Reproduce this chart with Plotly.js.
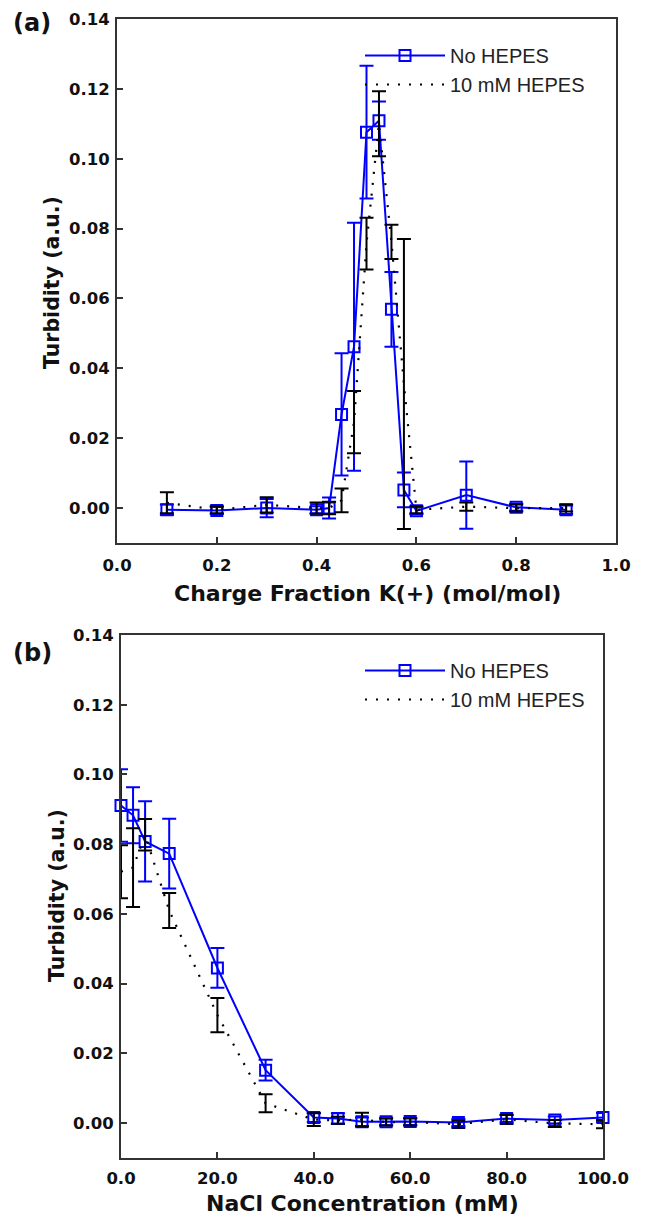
<!DOCTYPE html>
<html>
<head>
<meta charset="utf-8">
<script src="https://cdn.plot.ly/plotly-3.0.1.min.js"></script>
<style>html,body{margin:0;padding:0;background:#fff;}#chart{width:646px;height:1219px;}</style>
</head>
<body>
<div id="chart"></div>
<script>
// ---- Panel (a): turbidity vs charge fraction ----
const chargeFraction = [0.1,0.2,0.3,0.4,0.425,0.45,0.475,0.5,0.525,0.55,0.575,0.6,0.7,0.8,0.9];
const noHepesA      = [-0.0005,-0.0007,0.0,-0.0005,0.0,0.0268,0.0462,0.1076,0.1109,0.0569,0.0052,-0.0008,0.0037,0.0002,-0.0005];
const noHepesAErr   = [0.0015,0.001,0.0026,0.001,0.003,0.0175,0.0355,0.019,0.0055,0.0107,0.005,0.001,0.0096,0.001,0.0012];
const hepesA        = [0.0015,-0.0005,0.0009,0.0,0.0,0.0022,0.0246,0.0757,0.110,0.0762,0.0355,-0.0005,0.0004,0.0,0.0];
const hepesAErr     = [0.003,0.001,0.0022,0.0016,0.0018,0.0034,0.0089,0.0074,0.0093,0.0049,0.0415,0.001,0.0012,0.001,0.001];

// ---- Panel (b): turbidity vs NaCl concentration ----
const naclConc      = [0,2.5,5,10,20,30,40,45,50,55,60,70,80,90,100];
const noHepesB      = [0.0911,0.0883,0.0808,0.0773,0.0445,0.0152,0.0016,0.0013,0.0004,0.0004,0.0005,0.0002,0.0013,0.0009,0.0016];
const noHepesBErr   = [0.0104,0.008,0.0115,0.01,0.0057,0.003,0.0013,0.0015,0.0012,0.001,0.001,0.001,0.001,0.001,0.0013];
const hepesB        = [0.0721,0.0733,0.0827,0.061,0.031,0.0057,0.001,0.0008,0.001,0.0003,0.0003,-0.0003,0.0011,-0.0001,-0.0003];
const hepesBErr     = [0.0076,0.0113,0.0045,0.005,0.0049,0.0026,0.0018,0.001,0.002,0.001,0.001,0.001,0.0013,0.001,0.0012];

const seriesNames = ['No HEPES', '10 mM HEPES'];
const yTickVals = [0,0.02,0.04,0.06,0.08,0.10,0.12,0.14];
const xTickValsA = [0,0.2,0.4,0.6,0.8,1.0];
const xTickValsB = [0,20,40,60,80,100];

const BLUE = '#0000ff';
const BLACK = '#000000';
const BOLDFONT = 'DejaVu Sans, Liberation Sans, Arial, sans-serif';
const LEGFONT = 'Liberation Sans, Arial, Helvetica, sans-serif';

function blueTrace(x, y, err, xa, ya, leg, grp) {
  return {
    x: x, y: y, xaxis: xa, yaxis: ya, type: 'scatter', mode: 'lines+markers',
    name: seriesNames[0], legend: leg, legendgroup: grp + '1', cliponaxis: false,
    line: {color: BLUE, width: 2},
    marker: {symbol: 'square-open', size: 11, color: BLUE, line: {color: BLUE, width: 2}},
    error_y: {type: 'data', array: err, visible: true, color: BLUE, thickness: 2, width: 7}
  };
}
function blackTrace(x, y, err, xa, ya, leg, grp) {
  return {
    x: x, y: y, xaxis: xa, yaxis: ya, type: 'scatter', mode: 'lines',
    name: seriesNames[1], legend: leg, legendgroup: grp + '2', cliponaxis: false,
    line: {color: BLACK, width: 2.2, dash: '2px,9px'},
    error_y: {type: 'data', array: err, visible: true, color: BLACK, thickness: 2, width: 7}
  };
}

const data = [
  blueTrace(chargeFraction, noHepesA, noHepesAErr, 'x', 'y', 'legend', 'a'),
  blackTrace(chargeFraction, hepesA, hepesAErr, 'x', 'y', 'legend', 'a'),
  blueTrace(naclConc, noHepesB, noHepesBErr, 'x2', 'y2', 'legend2', 'b'),
  blackTrace(naclConc, hepesB, hepesBErr, 'x2', 'y2', 'legend2', 'b')
];

const tickFont = {family: BOLDFONT, size: 16.5, weight: 'bold', color: '#111'};
function axisBase(extra) {
  return Object.assign({
    showline: true, mirror: true, linecolor: '#333', linewidth: 2,
    ticks: 'inside', ticklen: 6, tickwidth: 2, tickcolor: '#333',
    showgrid: false, zeroline: false, tickfont: tickFont, fixedrange: true
  }, extra);
}

const W = 646, H = 1219;
const legendCommon = {
  font: {family: LEGFONT, size: 20, color: '#222'},
  bgcolor: 'rgba(0,0,0,0)', borderwidth: 0, xanchor: 'left', yanchor: 'top',
  tracegroupgap: 5, itemwidth: 80, traceorder: 'normal'
};

const titleFont = {family: BOLDFONT, size: 22, weight: 'bold', color: '#111'};
const yTitleFont = {family: BOLDFONT, size: 20.5, weight: 'bold', color: '#111'};
const panelFont = {family: BOLDFONT, size: 24, weight: 'bold', color: '#111'};

const layout = {
  width: W, height: H,
  margin: {l: 0, r: 0, t: 0, b: 0},
  paper_bgcolor: '#fff', plot_bgcolor: '#fff',
  showlegend: true,
  xaxis: axisBase({domain: [117/W, 616/W], anchor: 'y', range: [0, 1], tickvals: xTickValsA, tickformat: '.1f', ticklabelstandoff: 6}),
  yaxis: axisBase({domain: [1-543/H, 1-19/H], anchor: 'x', range: [-0.01, 0.14], tickvals: yTickVals, tickformat: '.2f', ticklabelstandoff: 2}),
  xaxis2: axisBase({domain: [121/W, 603/W], anchor: 'y2', range: [0, 100], tickvals: xTickValsB, tickformat: '.1f', ticklabelstandoff: 4}),
  yaxis2: axisBase({domain: [1-1158/H, 1-635/H], anchor: 'x2', range: [-0.01, 0.14], tickvals: yTickVals, tickformat: '.2f', ticklabelstandoff: 2}),
  legend: Object.assign({}, legendCommon, {x: 360/W, y: 1-36/H}),
  legend2: Object.assign({}, legendCommon, {x: 360/W, y: 1-651/H}),
  annotations: [
    {text: '(a)', xref: 'paper', yref: 'paper', x: 11/W, y: 1-23/H, xanchor: 'left', yanchor: 'middle', showarrow: false, font: panelFont},
    {text: '(b)', xref: 'paper', yref: 'paper', x: 11/W, y: 1-653/H, xanchor: 'left', yanchor: 'middle', showarrow: false, font: panelFont},
    {text: 'Charge Fraction K(+) (mol/mol)', xref: 'paper', yref: 'paper', x: 367/W, y: 1-593/H, xanchor: 'center', yanchor: 'middle', showarrow: false, font: titleFont},
    {text: 'NaCl Concentration (mM)', xref: 'paper', yref: 'paper', x: 362/W, y: 1-1203/H, xanchor: 'center', yanchor: 'middle', showarrow: false, font: titleFont},
    {text: 'Turbidity (a.u.)', xref: 'paper', yref: 'paper', x: 52/W, y: 1-283/H, xanchor: 'center', yanchor: 'middle', textangle: -90, showarrow: false, font: yTitleFont},
    {text: 'Turbidity (a.u.)', xref: 'paper', yref: 'paper', x: 57/W, y: 1-896/H, xanchor: 'center', yanchor: 'middle', textangle: -90, showarrow: false, font: yTitleFont}
  ]
};

Plotly.newPlot('chart', data, layout, {staticPlot: true, displayModeBar: false});
</script>
</body>
</html>
